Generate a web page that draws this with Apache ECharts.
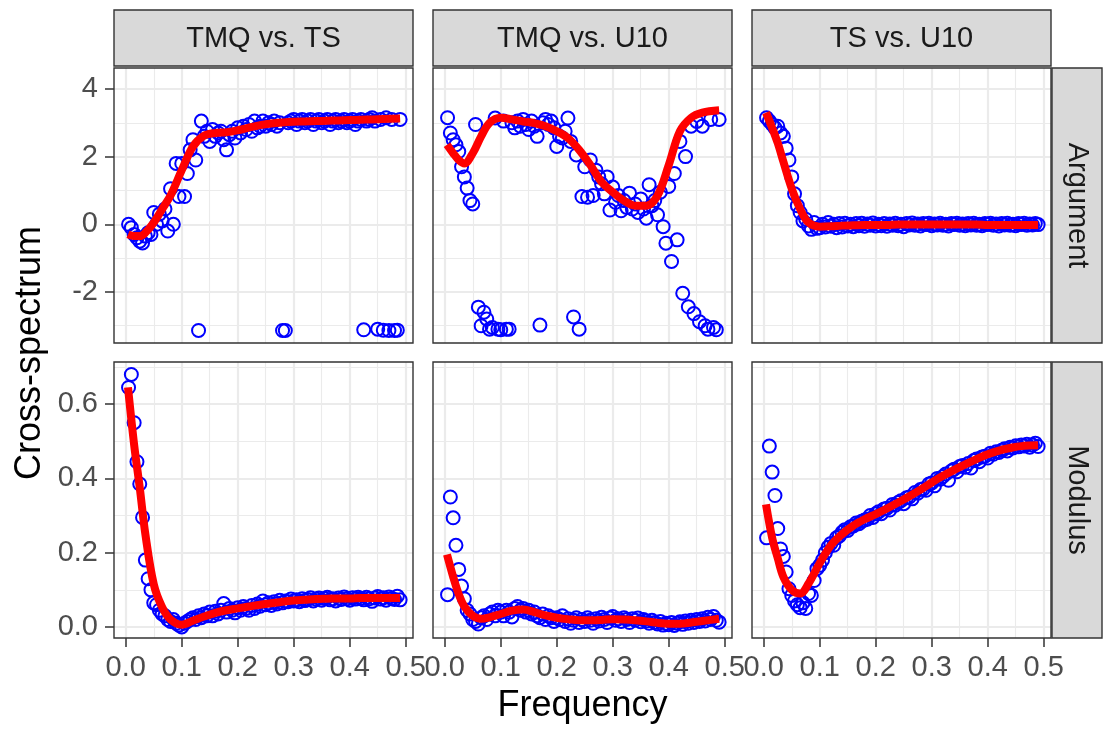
<!DOCTYPE html>
<html><head><meta charset="utf-8">
<script src="https://cdn.jsdelivr.net/npm/echarts@6/dist/echarts.min.js"></script>
<style>html,body{margin:0;padding:0;background:#fff}#c{width:1104px;height:729px}</style>
</head><body><div id="c"></div>
<script>
// ---- data ----
const freq = [0.005,0.01,0.015,0.02,0.025,0.03,0.035,0.04,0.045,0.05,
0.055,0.06,0.065,0.07,0.075,0.08,0.085,0.09,0.095,0.1,
0.105,0.11,0.115,0.12,0.125,0.13,0.135,0.14,0.145,0.15,
0.155,0.16,0.165,0.17,0.175,0.18,0.185,0.19,0.195,0.2,
0.205,0.21,0.215,0.22,0.225,0.23,0.235,0.24,0.245,0.25,
0.255,0.26,0.265,0.27,0.275,0.28,0.285,0.29,0.295,0.3,
0.305,0.31,0.315,0.32,0.325,0.33,0.335,0.34,0.345,0.35,
0.355,0.36,0.365,0.37,0.375,0.38,0.385,0.39,0.395,0.4,
0.405,0.41,0.415,0.42,0.425,0.43,0.435,0.44,0.445,0.45,
0.455,0.46,0.465,0.47,0.475,0.48,0.485,0.49];

const argTmqTs = [0.0,-0.1,-0.3,-0.4,-0.5,-0.55,-0.35,-0.25,-0.3,0.35,
0.0,0.3,0.1,0.45,-0.2,1.05,0.0,1.8,0.82,1.8,
0.82,1.5,2.2,2.5,1.9,-3.14,3.05,2.6,2.75,2.45,
2.8,2.6,2.7,2.75,2.5,2.2,2.65,2.75,2.55,2.85,
2.7,2.9,2.8,2.95,2.75,3.05,2.85,2.9,3.05,2.9,
3.0,2.95,3.05,2.9,3.0,-3.14,-3.14,3.0,3.05,3.1,
2.95,3.05,3.1,3.0,3.05,3.1,2.95,3.05,3.1,3.0,
3.05,3.1,2.95,3.05,3.1,3.0,3.05,3.1,3.0,3.05,
3.1,2.95,3.05,3.1,-3.12,3.05,3.1,3.15,3.05,-3.1,
3.1,-3.13,3.15,-3.14,3.1,-3.14,-3.13,3.1];

const argTmqU10 = [3.15,2.7,2.5,2.35,2.15,1.7,1.4,1.07,0.7,0.6,
2.95,-2.45,-3.0,-2.6,-2.8,-3.1,-3.05,3.14,-3.1,-3.12,
3.05,-3.1,-3.1,3.0,2.85,3.05,2.9,3.1,2.95,2.8,
3.05,2.9,2.6,-2.98,3.0,3.1,2.95,3.05,2.85,2.3,
2.6,2.55,2.75,3.14,2.45,-2.74,2.05,-3.1,0.82,1.7,
0.8,1.9,0.85,1.6,1.4,1.2,0.9,1.4,0.42,1.1,
0.65,0.85,0.4,0.7,0.5,0.92,0.45,0.6,0.35,0.75,
0.45,0.18,1.17,0.55,0.7,0.28,0.95,-0.07,-0.56,1.12,
-1.1,1.5,-0.46,2.45,-2.04,2.0,-2.44,2.9,-2.64,3.04,
-2.88,2.9,-3.0,-3.1,3.1,-3.05,-3.12,3.1];

const argTsU10 = [3.15,3.05,2.95,2.85,2.9,2.7,2.6,2.25,1.9,1.4,
0.9,0.55,0.35,0.1,0.15,-0.05,-0.15,0.05,-0.12,-0.1,
0.0,-0.08,0.05,-0.06,0.0,-0.1,0.02,-0.08,0.03,-0.05,
0.0,-0.07,0.02,-0.04,0.03,-0.06,0.01,-0.03,0.04,-0.05,
0.0,-0.04,0.02,-0.06,0.01,-0.03,0.03,-0.04,0.0,-0.07,
0.02,-0.02,0.04,-0.03,0.01,-0.05,0.02,-0.01,0.03,-0.04,
0.01,-0.02,0.03,-0.03,0.0,-0.05,0.02,-0.01,0.03,-0.03,
0.01,-0.04,0.02,-0.02,0.03,-0.03,0.0,-0.04,0.02,-0.01,
0.03,-0.03,0.01,-0.05,0.02,-0.02,0.03,-0.03,0.0,-0.04,
0.02,-0.01,0.03,-0.03,0.01,-0.02,0.02,-0.01];

const modTmqTs = [0.645,0.68,0.55,0.445,0.385,0.295,0.18,0.13,0.1,0.065,
0.06,0.045,0.035,0.03,0.02,0.015,0.02,0.01,0.005,0.0,
0.01,0.015,0.02,0.025,0.02,0.03,0.025,0.035,0.03,0.04,
0.03,0.042,0.035,0.045,0.063,0.04,0.05,0.045,0.038,0.052,
0.045,0.055,0.05,0.045,0.058,0.05,0.062,0.056,0.07,0.06,
0.065,0.058,0.068,0.062,0.072,0.065,0.07,0.068,0.075,0.07,
0.073,0.068,0.076,0.071,0.074,0.079,0.07,0.075,0.078,0.072,
0.077,0.08,0.073,0.076,0.07,0.078,0.074,0.081,0.076,0.072,
0.079,0.075,0.08,0.077,0.073,0.08,0.076,0.069,0.078,0.082,
0.075,0.079,0.072,0.081,0.077,0.074,0.083,0.073];

const modTmqU10 = [0.087,0.35,0.294,0.22,0.155,0.11,0.076,0.045,0.035,0.02,
0.015,0.008,0.025,0.03,0.02,0.035,0.04,0.03,0.045,0.04,
0.03,0.045,0.04,0.027,0.05,0.055,0.045,0.05,0.04,0.045,
0.035,0.04,0.03,0.025,0.035,0.02,0.03,0.025,0.015,0.025,
0.02,0.03,0.015,0.022,0.01,0.018,0.025,0.012,0.02,0.015,
0.025,0.018,0.01,0.022,0.016,0.026,0.02,0.012,0.024,0.028,
0.018,0.022,0.015,0.025,0.02,0.012,0.022,0.018,0.024,0.014,
0.02,0.016,0.01,0.018,0.012,0.008,0.015,0.005,0.01,0.006,
0.012,0.004,0.01,0.014,0.007,0.016,0.01,0.018,0.012,0.02,
0.015,0.022,0.016,0.026,0.02,0.028,0.018,0.013];

const modTsU10 = [0.24,0.487,0.417,0.354,0.265,0.21,0.19,0.148,0.103,0.085,
0.07,0.06,0.052,0.065,0.05,0.09,0.085,0.125,0.157,0.166,
0.18,0.2,0.215,0.225,0.22,0.24,0.245,0.255,0.262,0.26,
0.27,0.272,0.28,0.278,0.285,0.288,0.29,0.3,0.295,0.305,
0.31,0.305,0.318,0.32,0.315,0.33,0.328,0.335,0.34,0.332,
0.348,0.35,0.345,0.362,0.36,0.37,0.372,0.368,0.385,0.388,
0.38,0.4,0.398,0.405,0.412,0.395,0.42,0.425,0.418,0.432,
0.435,0.43,0.44,0.428,0.448,0.452,0.445,0.458,0.46,0.455,
0.468,0.465,0.472,0.47,0.476,0.48,0.474,0.484,0.482,0.488,
0.485,0.49,0.487,0.492,0.484,0.49,0.495,0.486];

// smoothed fit
const fitFreq = [0.004,0.015,0.025,0.035,0.05,0.065,0.08,0.1,0.12,0.14,0.16,0.18,0.2,0.22,0.24,0.26,0.28,0.3,0.32,0.34,0.36,0.38,0.4,0.42,0.44,0.46,0.49];
const fitArgTmqTs = [-0.3,-0.35,-0.35,-0.25,0.05,0.45,0.85,1.6,2.3,2.62,2.7,2.72,2.78,2.86,2.93,2.98,3.01,3.03,3.04,3.05,3.06,3.07,3.08,3.09,3.1,3.11,3.13];
const fitArgTmqU10 = [2.35,2.1,1.9,1.8,2.1,2.6,3.0,3.15,3.1,3.04,2.99,2.9,2.75,2.55,2.2,1.75,1.25,0.95,0.7,0.55,0.55,0.85,1.75,2.75,3.15,3.3,3.37];
const fitArgTsU10 = [3.3,2.85,2.4,1.85,1.05,0.45,0.05,-0.07,-0.06,-0.04,-0.03,-0.02,-0.02,-0.02,-0.01,-0.01,-0.01,-0.01,-0.01,-0.01,-0.01,-0.01,-0.02,-0.02,-0.02,-0.02,-0.02];
const fitModTmqTs = [0.645,0.49,0.375,0.25,0.115,0.053,0.02,0.006,0.017,0.028,0.038,0.045,0.05,0.055,0.06,0.064,0.068,0.071,0.073,0.075,0.076,0.077,0.077,0.078,0.078,0.078,0.078];
const fitModTmqU10 = [0.195,0.135,0.088,0.055,0.03,0.022,0.026,0.035,0.044,0.047,0.04,0.031,0.025,0.021,0.018,0.018,0.019,0.021,0.02,0.018,0.015,0.011,0.009,0.009,0.012,0.016,0.022];
const fitModTsU10 = [0.33,0.24,0.185,0.135,0.1,0.09,0.117,0.172,0.22,0.25,0.273,0.29,0.304,0.319,0.335,0.352,0.37,0.389,0.407,0.423,0.438,0.452,0.465,0.475,0.482,0.487,0.489];

// labels and ticks
const colLabels = ['TMQ vs. TS', 'TMQ vs. U10', 'TS vs. U10'];
const rowLabels = ['Argument', 'Modulus'];
const xTicks = [0, 0.1, 0.2, 0.3, 0.4, 0.5];
const xMinor = [0.05, 0.15, 0.25, 0.35, 0.45];
const argTicks = [-2, 0, 2, 4];
const argMinor = [-3, -1, 1, 3];
const modTicks = [0, 0.2, 0.4, 0.6];
const modMinor = [0.1, 0.3, 0.5, 0.7];
const xTitle = 'Frequency';
const yTitle = 'Cross-spectrum';

// ---- layout ----
const FONT = '"Liberation Sans", Arial, Helvetica, sans-serif';
const L = [114, 433, 752], W = 299;
const T = [68, 362], H = [275, 276];
const xRange = [-0.021, 0.513];
const yRanges = [[-3.51, 4.62], [-0.0297, 0.7135]];
const yTicks = [argTicks, modTicks], yMinor = [argMinor, modMinor];
const yFmt = [v => String(v), v => v.toFixed(1)];

const panels = [
  [argTmqTs, fitArgTmqTs], [argTmqU10, fitArgTmqU10], [argTsU10, fitArgTsU10],
  [modTmqTs, fitModTmqTs], [modTmqU10, fitModTmqU10], [modTsU10, fitModTsU10]
];

const grid = [], xAxis = [], yAxis = [], series = [], graphic = [];
const grey92 = '#EBEBEB';
for (let r = 0; r < 2; r++) {
  for (let c = 0; c < 3; c++) {
    const gi = r * 3 + c;
    grid.push({left: L[c], top: T[r], width: W, height: H[r], show: false});
    const showX = r === 1, showY = c === 0;
    xAxis.push({
      type: 'value', gridIndex: gi, min: xRange[0], max: xRange[1], position: 'bottom',
      axisLine: {show: false, onZero: false},
      axisTick: {show: showX, customValues: xTicks, length: 9, lineStyle: {color: '#333333', width: 1.5}},
      axisLabel: {show: showX, customValues: xTicks, margin: 15, color: '#4D4D4D', fontSize: 29, fontFamily: FONT, formatter: v => v.toFixed(1)},
      splitLine: {show: true, lineStyle: {color: grey92, width: 2.2}}
    }, {
      type: 'value', gridIndex: gi, min: xRange[0], max: xRange[1], position: 'bottom',
      axisLine: {show: false, onZero: false},
      axisTick: {show: false, customValues: xMinor},
      axisLabel: {show: false, customValues: xMinor},
      splitLine: {show: true, lineStyle: {color: grey92, width: 1.1}}
    });
    yAxis.push({
      type: 'value', gridIndex: gi, min: yRanges[r][0], max: yRanges[r][1], position: 'left',
      axisLine: {show: false, onZero: false},
      axisTick: {show: showY, customValues: yTicks[r], length: 9, lineStyle: {color: '#333333', width: 1.5}},
      axisLabel: {show: showY, customValues: yTicks[r], margin: 16, color: '#4D4D4D', fontSize: 29, fontFamily: FONT, formatter: yFmt[r]},
      splitLine: {show: true, lineStyle: {color: grey92, width: 2.2}}
    }, {
      type: 'value', gridIndex: gi, min: yRanges[r][0], max: yRanges[r][1], position: 'left',
      axisLine: {show: false, onZero: false},
      axisTick: {show: false, customValues: yMinor[r]},
      axisLabel: {show: false, customValues: yMinor[r]},
      splitLine: {show: true, lineStyle: {color: grey92, width: 1.1}}
    });
    const [pts, fit] = panels[gi];
    series.push({
      type: 'scatter', xAxisIndex: gi * 2, yAxisIndex: gi * 2, silent: true, z: 3,
      data: freq.map((f, i) => [f, pts[i]]),
      symbol: 'circle', symbolSize: 13,
      itemStyle: {color: 'rgba(0,0,0,0)', borderColor: '#0000FF', borderWidth: 2, opacity: 1}
    });
    series.push({
      type: 'line', xAxisIndex: gi * 2, yAxisIndex: gi * 2, silent: true, z: 4,
      data: fitFreq.map((f, i) => [f, fit[i]]),
      smooth: 0.35, showSymbol: false, symbol: 'none',
      lineStyle: {color: '#FF0000', width: 8, cap: 'butt', join: 'round'}
    });
    // panel border
    graphic.push({type: 'rect', z: 100, silent: true,
      shape: {x: L[c], y: T[r], width: W, height: H[r]},
      style: {fill: 'none', stroke: '#333333', lineWidth: 1.4}});
  }
}
// top strips
for (let c = 0; c < 3; c++) {
  graphic.push({type: 'rect', z: 100, silent: true,
    shape: {x: L[c], y: 10, width: W, height: 56},
    style: {fill: '#D9D9D9', stroke: '#333333', lineWidth: 1.4}});
  graphic.push({type: 'text', z: 101, silent: true, x: L[c] + W / 2, y: 39,
    style: {text: colLabels[c], fill: '#1A1A1A', font: '29px ' + FONT, align: 'center', verticalAlign: 'middle'}});
}
// right strips
for (let r = 0; r < 2; r++) {
  graphic.push({type: 'rect', z: 100, silent: true,
    shape: {x: 1052, y: T[r], width: 50, height: H[r]},
    style: {fill: '#D9D9D9', stroke: '#333333', lineWidth: 1.4}});
  graphic.push({type: 'text', z: 101, silent: true, x: 1077, y: T[r] + H[r] / 2, rotation: -Math.PI / 2,
    style: {text: rowLabels[r], fill: '#1A1A1A', font: '29px ' + FONT, align: 'center', verticalAlign: 'middle'}});
}
// axis titles
graphic.push({type: 'text', z: 101, silent: true, x: (L[0] + L[2] + W) / 2, y: 706,
  style: {text: xTitle, fill: '#000000', font: '36px ' + FONT, align: 'center', verticalAlign: 'middle'}});
graphic.push({type: 'text', z: 101, silent: true, x: 30, y: (T[0] + T[1] + H[1]) / 2, rotation: Math.PI / 2,
  style: {text: yTitle, fill: '#000000', font: '36px ' + FONT, align: 'center', verticalAlign: 'middle'}});

const chart = echarts.init(document.getElementById('c'), null, {renderer: 'canvas'});
chart.setOption({
  animation: false,
  backgroundColor: '#FFFFFF',
  grid, xAxis, yAxis, series, graphic
});
</script>
</body></html>
